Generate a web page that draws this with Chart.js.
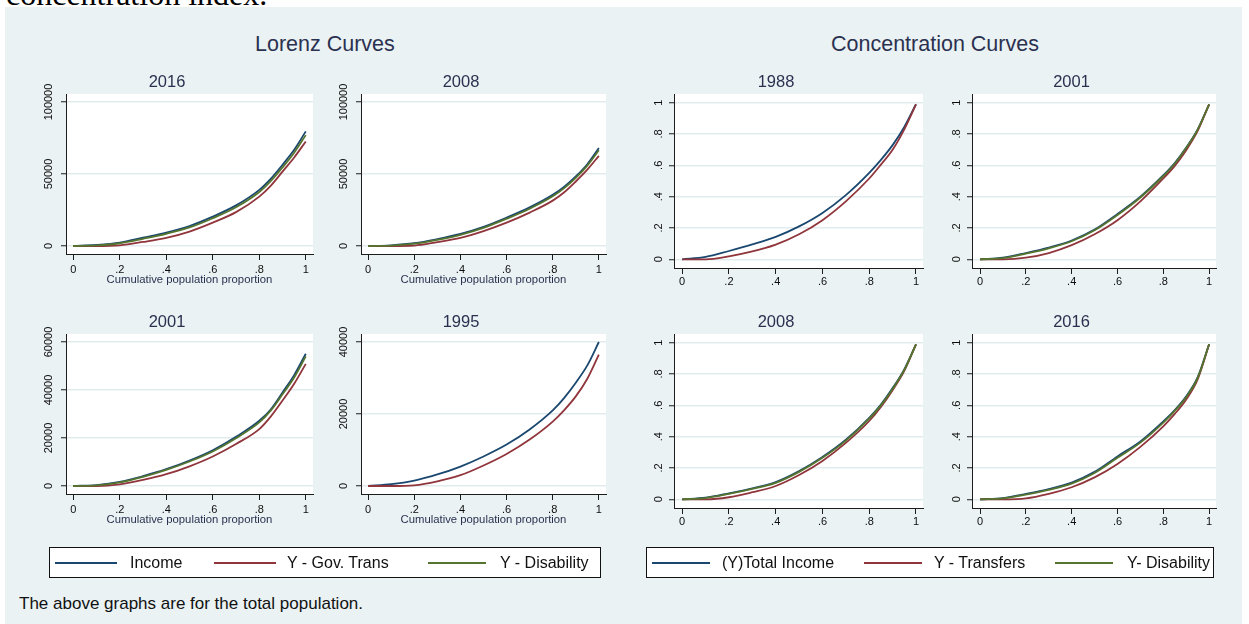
<!DOCTYPE html>
<html>
<head>
<meta charset="utf-8">
<script src="https://cdn.jsdelivr.net/npm/chart.js@4.4.1/dist/chart.umd.min.js"></script>
<style>
  html, body { margin: 0; padding: 0; background: #ffffff; }
  #page { position: relative; width: 1249px; height: 624px; overflow: hidden;
          font-family: "Liberation Sans", Arial, sans-serif; }
  #lead { position: absolute; left: 6px; top: -22px; white-space: nowrap;
          font-family: "Liberation Serif", "Times New Roman", serif; font-size: 32px; line-height: 32px; color: #000; }
  #panel { position: absolute; left: 5px; top: 7px; width: 1237px; height: 617px; background: #eaf2f3; }
  canvas { position: absolute; }
  .txt { position: absolute; white-space: nowrap; line-height: 1; }
  .legend { position: absolute; background: #ffffff; border: 1px solid #111; box-sizing: border-box; }
  .swatch { position: absolute; height: 2px; }
</style>
</head>
<body>
<div id="page">
  <div id="lead">concentration index.</div>
  <div id="panel"></div>
</div>
<script>
// Cumulative population share at which each curve is read
const popShare = [0, 0.1, 0.2, 0.3, 0.4, 0.5, 0.6, 0.7, 0.8, 0.85, 0.9, 0.95, 1];

// Generalized Lorenz curves (cumulative income per capita)
const lorenz2016Income     = [0, 700, 2300, 5800, 9300, 13900, 20400, 28200, 39000, 46800, 56400, 66800, 79600];
const lorenz2016GovTrans   = [0, 0, 500, 2800, 5600, 10000, 16200, 23500, 34300, 42000, 51700, 61500, 72600];
const lorenz2016Disability = [0, 400, 1900, 5000, 8500, 12900, 19300, 26900, 37500, 45200, 54600, 64800, 77000];

const lorenz2008Income     = [0, 500, 1900, 4800, 8400, 13300, 19700, 26800, 35500, 41200, 48300, 56800, 68000];
const lorenz2008GovTrans   = [0, 0, 300, 2700, 5600, 10300, 16200, 23200, 31500, 37300, 44800, 53000, 62600];
const lorenz2008Disability = [0, 300, 1600, 4300, 7800, 12600, 18900, 25900, 34500, 40200, 47300, 55800, 66500];

const lorenz2001Income     = [0, 400, 1700, 4100, 7000, 10600, 14900, 20500, 27200, 32000, 39000, 46200, 55100];
const lorenz2001GovTrans   = [0, 0, 700, 2500, 4900, 8200, 12300, 17500, 23700, 29000, 35600, 42600, 50900];
const lorenz2001Disability = [0, 300, 1500, 3800, 6700, 10200, 14400, 19900, 26500, 31500, 38200, 45200, 54000];

const lorenz1995Income     = [0, 500, 1500, 3200, 5400, 8200, 11500, 15700, 21000, 24500, 28700, 33500, 40000];
const lorenz1995GovTrans   = [0, 0, 200, 1300, 3000, 5700, 8900, 12900, 17900, 21100, 24900, 29800, 36500];

// Concentration curves (cumulative income share)
const conc1988Total      = [0, 0.015, 0.053, 0.095, 0.143, 0.21, 0.296, 0.41, 0.552, 0.635, 0.729, 0.845, 0.99];
const conc1988Transfers  = [0, 0, 0.019, 0.05, 0.094, 0.16, 0.25, 0.37, 0.516, 0.605, 0.70, 0.83, 0.99];

const conc2001Total      = [0, 0.01, 0.04, 0.075, 0.12, 0.19, 0.29, 0.40, 0.537, 0.615, 0.714, 0.83, 0.99];
const conc2001Transfers  = [0, 0, 0.01, 0.04, 0.09, 0.16, 0.25, 0.37, 0.516, 0.597, 0.697, 0.82, 0.99];
const conc2001Disability = [0, 0.008, 0.036, 0.07, 0.115, 0.185, 0.283, 0.395, 0.532, 0.61, 0.71, 0.828, 0.99];

const conc2008Total      = [0, 0.01, 0.038, 0.07, 0.11, 0.18, 0.27, 0.38, 0.52, 0.605, 0.71, 0.83, 0.99];
const conc2008Transfers  = [0, 0, 0.013, 0.045, 0.085, 0.155, 0.245, 0.36, 0.50, 0.59, 0.697, 0.82, 0.99];
const conc2008Disability = [0, 0.008, 0.034, 0.066, 0.105, 0.175, 0.265, 0.375, 0.515, 0.60, 0.705, 0.826, 0.99];

const conc2016Total      = [0, 0.008, 0.034, 0.065, 0.107, 0.175, 0.274, 0.37, 0.498, 0.57, 0.658, 0.78, 0.99];
const conc2016Transfers  = [0, 0, 0.006, 0.035, 0.077, 0.14, 0.226, 0.335, 0.466, 0.545, 0.637, 0.765, 0.99];
const conc2016Disability = [0, 0.006, 0.03, 0.06, 0.1, 0.168, 0.265, 0.362, 0.49, 0.565, 0.652, 0.775, 0.99];

// Tick values and labels
const shareTicks       = [0, 0.2, 0.4, 0.6, 0.8, 1];
const shareTickLabels  = ['0', '.2', '.4', '.6', '.8', '1'];
const lorenzTicks100k  = [0, 50000, 100000];
const lorenzTicks60k   = [0, 20000, 40000, 60000];
const lorenzTicks40k   = [0, 20000, 40000];

// Titles and legend entries
const lorenzGroupTitle = 'Lorenz Curves';
const concGroupTitle   = 'Concentration Curves';
const xAxisTitle       = 'Cumulative population proportion';
const lorenzLegendLabels = ['Income', 'Y - Gov. Trans', 'Y - Disability'];
const concLegendLabels   = ['(Y)Total Income', 'Y - Transfers', 'Y- Disability'];
const noteText = 'The above graphs are for the total population.';

// ---------------------------------------------------------------------------
const FONT = '"Liberation Sans", Arial, sans-serif';
const TITLE_COLOR = '#2a3150';
const TICK_COLOR = '#0d0d0d';
const AXIS_COLOR = '#1c1c1c';
const GRID_COLOR = '#e2ebee';
const SERIES_COLORS = ['#1a476f', '#90353b', '#55752f'];
const page = document.getElementById('page');

function placeText(text, cx, cy, size, color, anchor) {
  const d = document.createElement('div');
  d.className = 'txt';
  d.textContent = text;
  d.style.fontSize = size + 'px';
  d.style.color = color;
  d.style.top = (cy - 0.4885 * size) + 'px';
  page.appendChild(d);
  if (anchor === 'left') {
    d.style.left = cx + 'px';
  } else {
    d.style.left = (cx - d.offsetWidth / 2) + 'px';
  }
  return d;
}

// white plot region behind the curves
const plotBackground = {
  id: 'plotBackground',
  beforeDraw(chart) {
    const a = chart.chartArea, ctx = chart.ctx;
    ctx.save();
    ctx.fillStyle = '#ffffff';
    ctx.fillRect(a.left, a.top, a.right - a.left, a.bottom - a.top);
    ctx.restore();
  }
};

// vertical (rotated) y tick labels placed from the y scale
const verticalYLabels = {
  id: 'verticalYLabels',
  afterDraw(chart, args, opts) {
    const s = chart.scales.y, ctx = chart.ctx;
    ctx.save();
    ctx.fillStyle = TICK_COLOR;
    ctx.font = '11px ' + FONT;
    ctx.textAlign = 'center';
    ctx.textBaseline = 'middle';
    s.ticks.forEach(t => {
      const y = s.getPixelForValue(t.value);
      ctx.save();
      ctx.translate(s.right - opts.offset, y);
      ctx.rotate(-Math.PI / 2);
      ctx.fillText(opts.format(t.value), 0, 0);
      ctx.restore();
    });
    ctx.restore();
  }
};

const L = 45, T = 34, R = 8, B = 40;

function buildPanel(p) {
  const [x0, y0, x1, y1] = p.box;
  const w = x1 - x0 + L + R, h = y1 - y0 + T + B;
  const cv = document.createElement('canvas');
  cv.width = w; cv.height = h;
  cv.style.left = (x0 - L) + 'px'; cv.style.top = (y0 - T) + 'px';
  cv.style.width = w + 'px'; cv.style.height = h + 'px';
  page.appendChild(cv);

  const yFirst = p.yTicks[0], yLast = p.yTicks[p.yTicks.length - 1];
  const yPad = (yLast - yFirst) * 0.0556;

  new Chart(cv.getContext('2d'), {
    type: 'line',
    data: {
      datasets: p.series.map((values, i) => ({
        label: p.legend[i],
        data: popShare.map((x, k) => ({ x: x, y: values[k] })),
        borderColor: SERIES_COLORS[i],
        borderWidth: 1.8,
        pointRadius: 0,
        fill: false,
        cubicInterpolationMode: 'monotone',
        order: p.series.length - i
      }))
    },
    options: {
      responsive: false,
      animation: false,
      devicePixelRatio: 1,
      layout: { padding: { left: 0, top: 0, right: R, bottom: 0 }, autoPadding: false },
      plugins: {
        legend: { display: false },
        tooltip: { enabled: false },
        title: {
          display: true, text: p.title, color: TITLE_COLOR,
          font: { family: FONT, size: 16.5, weight: 'normal' },
          padding: { top: 12.1, bottom: 2.1 }
        },
        verticalYLabels: { offset: p.yLabelOffset, format: p.yFormat }
      },
      scales: {
        x: {
          type: 'linear',
          min: p.xRange[0], max: p.xRange[1],
          afterFit: s => { s.height = B; },
          afterBuildTicks: s => { s.ticks = shareTicks.map(v => ({ value: v })); },
          ticks: {
            autoSkip: false, maxRotation: 0, minRotation: 0,
            padding: p.xTickPad, color: TICK_COLOR,
            font: { family: FONT, size: 11 },
            callback: v => shareTickLabels[shareTicks.indexOf(v)]
          },
          grid: { drawOnChartArea: false, drawTicks: true, tickLength: 6, tickColor: AXIS_COLOR, tickWidth: 1 },
          border: { display: true, color: AXIS_COLOR, width: 1 },
          title: {
            display: !!p.xTitle, text: p.xTitle || '', color: TITLE_COLOR,
            font: { family: FONT, size: 11.3 },
            padding: { top: 0, bottom: 7.2 }
          }
        },
        y: {
          type: 'linear',
          min: yFirst - yPad, max: yLast + yPad,
          afterFit: s => { s.width = L; },
          afterBuildTicks: s => { s.ticks = p.yTicks.map(v => ({ value: v })); },
          ticks: { display: false },
          grid: { color: GRID_COLOR, lineWidth: 1.5, drawTicks: true, tickLength: 5, tickColor: AXIS_COLOR, tickWidth: 1 },
          border: { display: true, color: AXIS_COLOR, width: 1 }
        }
      }
    },
    plugins: [plotBackground, verticalYLabels]
  });
}

const lorenzX = [-0.031, 1.031];
const concX = [-0.035, 1.03];
const plainNumber = v => String(v);
const shareLabel = v => shareTickLabels[shareTicks.indexOf(v)];

const panels = [
  { title: '2016', box: [66, 94, 313, 254], yTicks: lorenzTicks100k, yFormat: plainNumber, yLabelOffset: 17,
    xRange: lorenzX, xTickPad: 3.4, xTitle: xAxisTitle, legend: lorenzLegendLabels,
    series: [lorenz2016Income, lorenz2016GovTrans, lorenz2016Disability] },
  { title: '2008', box: [361, 94, 606, 254], yTicks: lorenzTicks100k, yFormat: plainNumber, yLabelOffset: 17,
    xRange: lorenzX, xTickPad: 3.4, xTitle: xAxisTitle, legend: lorenzLegendLabels,
    series: [lorenz2008Income, lorenz2008GovTrans, lorenz2008Disability] },
  { title: '2001', box: [66, 334, 313, 494], yTicks: lorenzTicks60k, yFormat: plainNumber, yLabelOffset: 17,
    xRange: lorenzX, xTickPad: 3.4, xTitle: xAxisTitle, legend: lorenzLegendLabels,
    series: [lorenz2001Income, lorenz2001GovTrans, lorenz2001Disability] },
  { title: '1995', box: [361, 334, 606, 494], yTicks: lorenzTicks40k, yFormat: plainNumber, yLabelOffset: 17,
    xRange: lorenzX, xTickPad: 3.4, xTitle: xAxisTitle, legend: lorenzLegendLabels,
    series: [lorenz1995Income, lorenz1995GovTrans] },
  { title: '1988', box: [674, 94, 923, 268], yTicks: shareTicks, yFormat: shareLabel, yLabelOffset: 15,
    xRange: concX, xTickPad: 1.8, xTitle: null, legend: concLegendLabels,
    series: [conc1988Total, conc1988Transfers] },
  { title: '2001', box: [972, 94, 1216, 268], yTicks: shareTicks, yFormat: shareLabel, yLabelOffset: 15,
    xRange: concX, xTickPad: 1.8, xTitle: null, legend: concLegendLabels,
    series: [conc2001Total, conc2001Transfers, conc2001Disability] },
  { title: '2008', box: [674, 334, 923, 508], yTicks: shareTicks, yFormat: shareLabel, yLabelOffset: 15,
    xRange: concX, xTickPad: 1.8, xTitle: null, legend: concLegendLabels,
    series: [conc2008Total, conc2008Transfers, conc2008Disability] },
  { title: '2016', box: [972, 334, 1216, 508], yTicks: shareTicks, yFormat: shareLabel, yLabelOffset: 15,
    xRange: concX, xTickPad: 1.8, xTitle: null, legend: concLegendLabels,
    series: [conc2016Total, conc2016Transfers, conc2016Disability] }
];

panels.forEach(buildPanel);

// group titles
placeText(lorenzGroupTitle, 325, 45, 21.5, TITLE_COLOR);
placeText(concGroupTitle, 935, 45, 21.5, TITLE_COLOR);

// legends
function buildLegend(labels, box, swatches, textStarts) {
  const lg = document.createElement('div');
  lg.className = 'legend';
  lg.style.left = box[0] + 'px'; lg.style.top = box[1] + 'px';
  lg.style.width = (box[2] - box[0]) + 'px'; lg.style.height = (box[3] - box[1]) + 'px';
  page.appendChild(lg);
  const cy = (box[1] + box[3]) / 2;
  labels.forEach((lab, i) => {
    const sw = document.createElement('div');
    sw.className = 'swatch';
    sw.style.background = SERIES_COLORS[i];
    sw.style.left = swatches[i][0] + 'px';
    sw.style.width = (swatches[i][1] - swatches[i][0]) + 'px';
    sw.style.top = (cy - 1) + 'px';
    page.appendChild(sw);
    placeText(lab, textStarts[i], cy, 16, '#111111', 'left');
  });
}
buildLegend(lorenzLegendLabels, [49, 547, 601, 578], [[55, 117], [214, 276], [428, 486]], [130, 287, 500]);
buildLegend(concLegendLabels, [646, 547, 1214, 578], [[652, 710], [864, 922], [1055, 1113]], [722, 934, 1127]);

// note
placeText(noteText, 19, 603, 17, '#111111', 'left');
</script>
</body>
</html>
